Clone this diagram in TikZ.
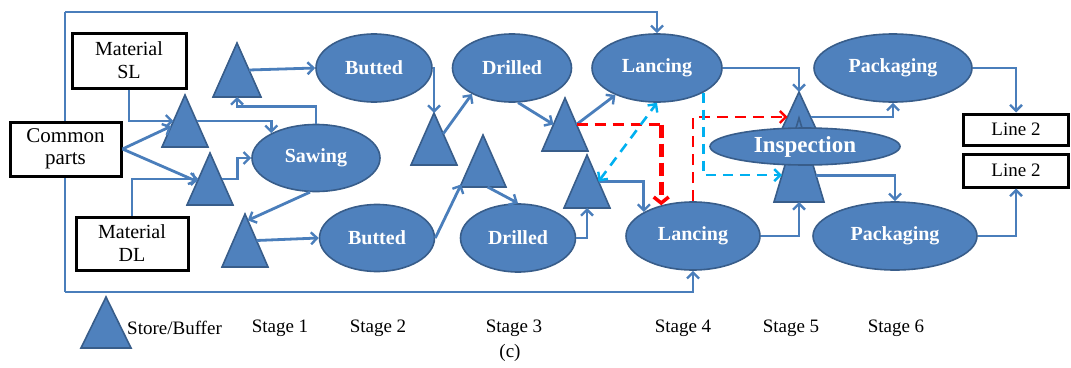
\documentclass[tikz,border=0pt]{standalone}
\usepackage{fontspec}
\setmainfont{Liberation Serif}
\usetikzlibrary{arrows.meta,calc,shapes.geometric}
\definecolor{bfill}{HTML}{4F81BD}
\definecolor{bdraw}{HTML}{385D8A}
\definecolor{bline}{HTML}{4A7EBB}
\definecolor{rline}{HTML}{FF0000}
\definecolor{cline}{HTML}{00B0F0}
\newcommand{\buffer}[5]{%
  \coordinate (#1-a) at (#2,#3);
  \coordinate (#1-l) at (#2-#4,#3+#5);
  \coordinate (#1-r) at (#2+#4,#3+#5);
  \draw[buf] (#1-a) -- (#1-l) -- (#1-r) -- cycle;}
\begin{document}
\begin{tikzpicture}[x=1pt,y=-1pt,
  box/.style={draw=black, line width=3pt, fill=white, align=center, inner sep=0pt, font=\fontsize{20}{23}\selectfont},
  ell/.style={ellipse, draw=bdraw, line width=1.6pt, fill=bfill, text=white, inner sep=0pt, font=\bfseries\fontsize{20}{22}\selectfont},
  buf/.style={draw=bdraw, line width=1.6pt, fill=bfill, line join=miter},
  tip/.style={-{Straight Barb[length=6pt,width=12pt,line width=2.4pt]}},
  arr/.style={draw=bline, line width=2.8pt, tip},
  conn/.style={draw=bline, line width=2.8pt},
  reddash/.style={draw=rline, line width=2.8pt, dash pattern=on 11pt off 7pt},
  cyandash/.style={draw=cline, line width=2.6pt, dash pattern=on 10pt off 7pt},
  lab/.style={font=\fontsize{19}{21}\selectfont, inner sep=0pt}]
\useasboundingbox (0,0) rectangle (1071,367);

% feedback loop frame
\coordinate (lt) at (65,12);
\coordinate (lb) at (65,292);
\draw[conn] (lt) -- (lb);

% boxes
\node[box, minimum width=114pt, minimum height=55pt] (SL) at (129,60.5) {Material\\SL};
\node[box, minimum width=111pt, minimum height=54pt, font=\fontsize{21}{22}\selectfont] (CP) at (65.5,149) {Common\\parts};
\node[box, minimum width=112pt, minimum height=53pt] (DL) at (132,243.5) {Material\\DL};
\node[box, minimum width=105pt, minimum height=31pt, font=\fontsize{19}{20}\selectfont] (LA) at (1016,129.5) {Line 2};
\node[box, minimum width=105pt, minimum height=33pt, font=\fontsize{19}{20}\selectfont] (LB) at (1016,170.5) {Line 2};

% ellipses
\node[ell, minimum width=128pt, minimum height=67pt] (Saw) at (316,158) {Sawing};
\node[ell, minimum width=116pt, minimum height=68pt] (B1) at (374,68) {Butted};
\node[ell, minimum width=115pt, minimum height=67pt] (B2) at (377,238) {Butted};
\node[ell, minimum width=119pt, minimum height=68pt] (D1) at (512,68) {Drilled};
\node[ell, minimum width=115pt, minimum height=68pt] (D2) at (518,238) {Drilled};
\node[ell, minimum width=130pt, minimum height=68pt] (L1) at (657,68) {Lancing};
\node[ell, minimum width=134pt, minimum height=68pt] (L2) at (693,236) {Lancing};
\node[ell, minimum width=158pt, minimum height=68pt] (P1) at (893,68) {Packaging};
\node[ell, minimum width=164pt, minimum height=68pt] (P2) at (895,236) {Packaging};

% buffers
\buffer{T1}{237}{43}{24}{54}
\buffer{T2}{185}{95}{23}{52}
\buffer{T3}{210}{153}{23}{52}
\buffer{T4}{245}{214}{23}{53}
\buffer{T5}{434}{113}{23}{52}
\buffer{T6}{483}{135}{23}{52}
\buffer{T7}{565}{98}{23}{53}
\buffer{T8}{587}{155}{23}{53}
\buffer{T9}{799}{92}{24}{52}
\buffer{T10}{799}{118}{25}{84}
\buffer{TL}{106}{297}{25}{51}

\node[ell, minimum width=190pt, minimum height=37pt, font=\bfseries\fontsize{23}{24}\selectfont] (Ins) at (805,146.5) {Inspection};

% loop arrows
\draw[arr] (lt) -| (L1.north);
\draw[arr] (lb) -| (L2.south);

% stage 1 connectors
\draw[arr] (SL.south) |- ($(T2-a)!0.5!(T2-l)$);
\draw[arr] (CP.east) -- ($(T2-a)!0.6!(T2-l)$);
\draw[arr] (CP.east) -- ($(T3-a)!0.55!(T3-l)$);
\draw[arr] (DL.north) |- ($(T3-a)!0.5!(T3-l)$);
\draw[arr] ($(T2-a)!0.5!(T2-r)$) -| (Saw.151);
\draw[arr] ($(T3-a)!0.5!(T3-r)$) -- ++(16,0) |- (Saw.west);
\draw[arr] (Saw.north) -- ++(0,-17) -| ($(T1-l)!0.5!(T1-r)$);
\draw[arr] ($(T1-a)!0.5!(T1-r)$) -- (B1.west);
\draw[arr] (Saw.-100) -- ($(T4-a)!0.12!(T4-r)$);
\draw[arr] ($(T4-a)!0.5!(T4-r)$) -- (B2.west);

% stage 2-3 connectors
\draw[arr] (B1.east) -| (T5-a);
\draw[arr] ($(T5-a)!0.4!(T5-r)$) -- (D1.213);
\draw[arr] (B2.east) -- ($(T6-a)!0.95!(T6-l)$);
\draw[arr] ($(T6-l)!0.6!(T6-r)$) -- (D2.north);
\draw[arr] (D1.-80) -- ($(T7-a)!0.5!(T7-l)$);
\draw[arr] ($(T7-a)!0.5!(T7-r)$) -- (L1.213);
\draw[arr] (D2.east) -| ($(T8-l)!0.5!(T8-r)$);
\draw[arr] ($(T8-a)!0.5!(T8-r)$) -| (L2.154);

% red dashed
\coordinate (T7r) at ($(T7-a)!0.5!(T7-r)$);
\draw[reddash] (T7r) -- (T7r -| L2.136);
\draw[reddash, line width=5pt, dash pattern=on 13pt off 6pt, -{Straight Barb[length=6pt,width=15pt,line width=3.5pt]}] (T7r -| L2.136) -- (L2.136);
\draw[reddash, -{Straight Barb[length=6pt,width=12pt,line width=2.4pt]}] (L2.north) |- ($(T9-a)!0.48!(T9-l)$);

% cyan dashed
\draw[cyandash, {Straight Barb[length=6pt,width=12pt,line width=2.4pt]}-{Straight Barb[length=6pt,width=12pt,line width=2.4pt]}] ($(T8-a)!0.5!(T8-r)$) -- (L1.south);
\draw[cyandash, -{Straight Barb[length=6pt,width=12pt,line width=2.4pt]}] (L1.-28) |- ($(T10-a)!0.68!(T10-l)$);

% stage 4-6 connectors
\draw[arr] (L1.east) -| (T9-a);
\draw[arr] ($(T9-a)!0.48!(T9-r)$) -| (P1.south);
\draw[arr] ($(T10-a)!0.68!(T10-r)$) -| (P2.north);
\draw[arr] (L2.east) -| ($(T10-l)!0.5!(T10-r)$);
\draw[arr] (P1.east) -| (LA.north);
\draw[arr] (P2.east) -| (LB.south);

% legend and stages
\node[lab, anchor=west] (lsb) at (127,328) {Store/Buffer};
\node[lab] (s1) at (280,328) {Stage 1};
\node[lab] (s2) at (378,328) {Stage 2};
\node[lab] (s3) at (514,328) {Stage 3};
\node[lab] (s4) at (683,328) {Stage 4};
\node[lab] (s5) at (791,328) {Stage 5};
\node[lab] (s6) at (896,328) {Stage 6};
\node[lab] (cap) at (510,353) {(c)};
\end{tikzpicture}
\end{document}
